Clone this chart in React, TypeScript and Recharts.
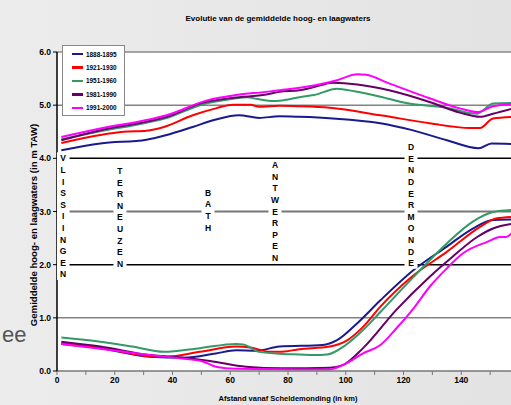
import {
  ComposedChart,
  Line,
  Scatter,
  XAxis,
  YAxis,
  CartesianGrid,
  ReferenceLine,
} from 'recharts'

// [km, water level in m TAW]
const hoog1888: [number, number][] = [[1.5, 4.15], [15, 4.28], [31, 4.35], [38, 4.44], [47, 4.59], [55, 4.73], [63, 4.81], [70, 4.76], [77, 4.79], [84, 4.78], [95.5, 4.75], [112, 4.66], [123, 4.53], [135, 4.34], [146, 4.19], [150.5, 4.28], [158, 4.27]]
const laag1888: [number, number][] = [[1.5, 0.51], [15, 0.43], [32, 0.27], [44, 0.25], [55, 0.33], [62, 0.39], [69, 0.38], [77, 0.46], [92, 0.49], [97, 0.58], [104, 0.9], [112, 1.33], [123.5, 1.9], [135, 2.34], [144, 2.68], [151, 2.84], [158, 2.85]]
const hoog1921: [number, number][] = [[1.5, 4.29], [15, 4.44], [23, 4.5], [31, 4.52], [37, 4.59], [47, 4.81], [55, 4.94], [61, 5.01], [67, 5.01], [70, 4.97], [77, 4.99], [84, 4.98], [94.5, 4.95], [112, 4.81], [129, 4.66], [143, 4.57], [146.5, 4.57], [151, 4.75], [158, 4.78]]
const laag1921: [number, number][] = [[1.5, 0.52], [15, 0.44], [32, 0.28], [38, 0.27], [49.5, 0.36], [62, 0.46], [67, 0.44], [74, 0.36], [77, 0.36], [84, 0.41], [94.5, 0.46], [100, 0.56], [106, 0.83], [112, 1.21], [123.5, 1.8], [135, 2.24], [146.5, 2.71], [152, 2.87], [158, 2.9]]
const hoog1951: [number, number][] = [[1.5, 4.36], [15, 4.51], [31, 4.67], [38, 4.76], [49.5, 5.0], [61, 5.12], [66, 5.15], [69, 5.12], [74, 5.08], [78, 5.09], [84, 5.15], [89, 5.19], [97, 5.31], [103, 5.26], [112, 5.16], [121, 5.04], [135, 4.95], [145.5, 4.84], [151, 5.03], [158, 5.04]]
const laag1951: [number, number][] = [[1.5, 0.63], [15, 0.55], [26, 0.46], [37, 0.36], [49.5, 0.43], [62, 0.51], [64.5, 0.5], [70, 0.36], [78, 0.32], [84, 0.31], [89, 0.3], [93.5, 0.31], [100, 0.49], [106, 0.77], [112, 1.11], [123.5, 1.77], [135, 2.4], [144, 2.81], [151, 2.99], [158, 3.03]]
const hoog1981: [number, number][] = [[1.5, 4.34], [15, 4.53], [31, 4.69], [38, 4.78], [49.5, 5.03], [61, 5.14], [72.5, 5.2], [77, 5.25], [84, 5.28], [89, 5.34], [95.5, 5.42], [104, 5.39], [115, 5.28], [129, 5.06], [139.5, 4.86], [146.5, 4.78], [151, 4.84], [158, 4.94]]
const laag1981: [number, number][] = [[1.5, 0.55], [15, 0.46], [32, 0.3], [44, 0.25], [53, 0.19], [65.5, 0.08], [78, 0.05], [94.5, 0.06], [99, 0.11], [106, 0.43], [117.5, 1.15], [129, 1.77], [137, 2.15], [145.5, 2.52], [151, 2.68], [158, 2.77]]
const hoog1991: [number, number][] = [[1.5, 4.4], [15, 4.56], [31, 4.72], [38, 4.81], [52, 5.09], [62, 5.19], [72.5, 5.25], [77, 5.28], [89, 5.37], [97, 5.47], [104, 5.58], [107, 5.57], [115, 5.41], [129, 5.13], [139.5, 4.94], [145.5, 4.87], [151, 4.98], [158, 5.02]]
const laag1991: [number, number][] = [[1.5, 0.51], [15, 0.42], [32, 0.3], [44, 0.23], [50.5, 0.18], [55, 0.08], [62, 0.04], [84, 0.03], [94.5, 0.03], [100, 0.14], [106, 0.33], [112, 0.49], [117.5, 0.8], [123.5, 1.18], [129, 1.58], [135, 1.93], [140.5, 2.21], [149, 2.43], [153.5, 2.52], [155.5, 2.52], [158, 2.62]]

const periods = ['1888-1895', '1921-1930', '1951-1960', '1981-1990', '1991-2000']
const colors = ['#1a1a8f', '#ff0000', '#339966', '#660066', '#ff00ff']
const hoog = [hoog1888, hoog1921, hoog1951, hoog1981, hoog1991]
const laag = [laag1888, laag1921, laag1951, laag1981, laag1991]

// station name, km, level of the first letter
const stations = [
  { name: 'VLISSIINGEN', km: 2.1, h: 4.0 },
  { name: 'TERNEUZEN', km: 21.8, h: 3.76 },
  { name: 'BATH', km: 52.3, h: 3.35 },
  { name: 'ANTWERPEN', km: 75.5, h: 3.87 },
  { name: 'DENDERMONDE', km: 122.6, h: 4.21 },
]

const xTicks = [0, 10, 20, 30, 40, 50, 60, 70, 80, 90, 100, 110, 120, 130, 140, 150, 160]
const yTicks = [0, 1, 2, 3, 4, 5, 6]

const gridLines = [
  { y: 6, stroke: '#8a8a8a', w: 1.5 },
  { y: 5, stroke: '#444', w: 1 },
  { y: 4, stroke: '#000', w: 1.5 },
  { y: 3, stroke: '#777', w: 2 },
  { y: 2, stroke: '#000', w: 1.5 },
  { y: 1, stroke: '#444', w: 1 },
]

const FONT = "'Liberation Sans', Arial, sans-serif"
const STEP = 11.6

const toPoints = (arr: [number, number][]) => arr.map(([km, h]) => ({ km, h }))

function StationLabel(props: any) {
  const { cx, cy, payload } = props
  const letters: string[] = payload.name.split('')
  return (
    <g>
      <rect x={cx - 6.5} y={cy - 6} width={13} height={letters.length * STEP} fill="#fff" />
      {letters.map((ch, i) => (
        <text
          key={i}
          x={cx}
          y={cy + i * STEP}
          textAnchor="middle"
          dominantBaseline="central"
          fontFamily={FONT}
          fontWeight="bold"
          fontSize={8.5}
          fill="#000"
        >
          {ch}
        </text>
      ))}
    </g>
  )
}

export default function App() {
  return (
    <div
      style={{
        position: 'absolute',
        left: 0,
        top: 0,
        width: 511,
        height: 405,
        overflow: 'hidden',
        background: 'linear-gradient(to right, #ececec, #e3e3e3)',
        fontFamily: FONT,
      }}
    >
      <div style={{ position: 'absolute', left: 0, top: 14, width: 556, textAlign: 'center', fontSize: 8, fontWeight: 'bold', lineHeight: '10px' }}>
        Evolutie van de gemiddelde hoog- en laagwaters
      </div>
      <div style={{ position: 'absolute', left: 2, top: 324, fontSize: 22, lineHeight: 1, color: '#555' }}>
        ee
      </div>
      <div
        style={{
          position: 'absolute',
          left: 33,
          top: 225,
          transform: 'translate(-50%, -50%) rotate(-90deg)',
          whiteSpace: 'nowrap',
          fontSize: 9.6,
          fontWeight: 'bold',
        }}
      >
        Gemiddelde hoog- en laagwaters (in m TAW)
      </div>

      <ComposedChart width={519} height={405} margin={{ top: 52, right: 0, bottom: 0, left: 30 }}>
        <CartesianGrid horizontal={false} vertical={false} fill="#fff" />
        <XAxis
          type="number"
          dataKey="km"
          domain={[0, 160]}
          ticks={xTicks}
          allowDataOverflow
          height={34}
          tickSize={4}
          tickFormatter={(v) => (v % 20 === 0 && v < 160 ? String(v) : '')}
          tick={{ fontSize: 8.5, fontWeight: 'bold', fill: '#000', fontFamily: FONT }}
          axisLine={{ stroke: '#777', strokeWidth: 1.5 }}
          tickLine={{ stroke: '#777' }}
          label={{ value: 'Afstand vanaf Scheldemonding (in km)', position: 'insideBottom', offset: 4, fontSize: 7.5, fontWeight: 'bold', fill: '#000', fontFamily: FONT }}
        />
        <YAxis
          type="number"
          dataKey="h"
          domain={[0, 6]}
          ticks={yTicks}
          width={27}
          tickSize={4}
          tickMargin={2}
          tickFormatter={(v) => v.toFixed(1)}
          tick={{ fontSize: 8.5, fontWeight: 'bold', fill: '#000', fontFamily: FONT }}
          axisLine={{ stroke: '#000', strokeWidth: 1.5 }}
          tickLine={{ stroke: '#000' }}
        />
        {gridLines.map((g) => (
          <ReferenceLine key={g.y} y={g.y} stroke={g.stroke} strokeWidth={g.w} />
        ))}
        <Scatter data={stations} dataKey="h" shape={StationLabel} isAnimationActive={false} />
        {periods.map((p, i) => (
          <Line
            key={'h' + p}
            data={toPoints(hoog[i])}
            dataKey="h"
            type="monotone"
            stroke={colors[i]}
            strokeWidth={2}
            dot={false}
            isAnimationActive={false}
          />
        ))}
        {periods.map((p, i) => (
          <Line
            key={'l' + p}
            data={toPoints(laag[i])}
            dataKey="h"
            type="monotone"
            stroke={colors[i]}
            strokeWidth={2}
            dot={false}
            isAnimationActive={false}
          />
        ))}
      </ComposedChart>

      <div
        style={{
          position: 'absolute',
          left: 62,
          top: 45,
          width: 63,
          height: 71,
          border: '1px solid #888',
          background: '#fff',
          boxSizing: 'border-box',
          paddingTop: 1.5,
        }}
      >
        {periods.map((p, i) => (
          <div key={p} style={{ display: 'flex', alignItems: 'center', height: 13.4, fontSize: 8, fontWeight: 'bold', whiteSpace: 'nowrap' }}>
            <span style={{ display: 'inline-block', width: 11, height: 2.5, background: colors[i], marginLeft: 9, marginRight: 3 }} />
            <span style={{ display: 'inline-block', transform: 'scaleX(0.8)', transformOrigin: 'left center' }}>{p}</span>
          </div>
        ))}
      </div>
    </div>
  )
}
